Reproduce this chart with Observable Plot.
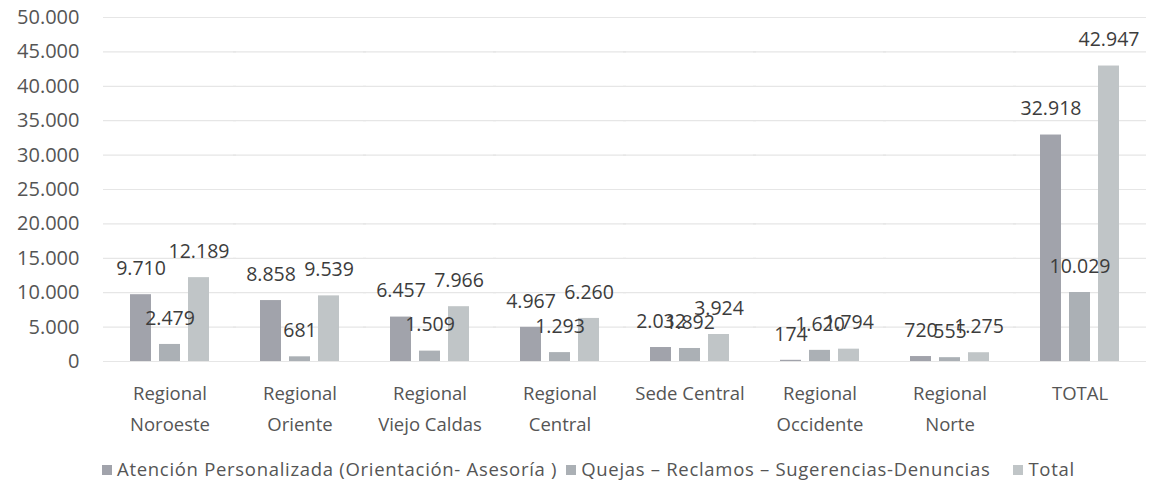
<!DOCTYPE html>
<html>
<head>
<meta charset="utf-8">
<script src="https://cdn.jsdelivr.net/npm/d3@7"></script>
<script src="https://cdn.jsdelivr.net/npm/@observablehq/plot@0.6"></script>
<style>
  html, body { margin: 0; padding: 0; background: #fff; }
  #chart { width: 1149px; }
  .legend { display: flex; justify-content: flex-start; align-items: center; gap: 9px;
    font-family: "Open Sans", sans-serif; font-size: 18.5px; letter-spacing: 0.7px; color: #555; height: 40px; margin-left: 102px; }
  .legend span.sw { display: inline-block; width: 10px; height: 10px; margin-right: 5px; vertical-align: middle; position: relative; top: -1px; }
  .legend .item { white-space: nowrap; }
</style>
</head>
<body>
<div id="chart"></div>
<script>
const categories = ["Regional Noroeste", "Regional Oriente", "Regional Viejo Caldas", "Regional Central", "Sede Central", "Regional Occidente", "Regional Norte", "TOTAL"];
const seriesNames = ["Atención Personalizada (Orientación- Asesoría )", "Quejas – Reclamos – Sugerencias-Denuncias", "Total"];
const atencion = [9710, 8858, 6457, 4967, 2032, 174, 720, 32918];
const quejas = [2479, 681, 1509, 1293, 1892, 1620, 555, 10029];
const totales = [12189, 9539, 7966, 6260, 3924, 1794, 1275, 42947];
const yTicks = [0, 5000, 10000, 15000, 20000, 25000, 30000, 35000, 40000, 45000, 50000];
const colors = ["#a1a3ab", "#abb0b5", "#c0c5c7"];

const seriesValues = [atencion, quejas, totales];
const data = [];
categories.forEach((c, i) => {
  seriesNames.forEach((s, j) => data.push({category: c, series: s, value: seriesValues[j][i]}));
});
const gridData = [];
categories.forEach(c => yTicks.forEach(t => gridData.push({category: c, tick: t})));

const loc = d3.formatLocale({decimal: ",", thousands: ".", grouping: [3], currency: ["", ""]});
const fmt = loc.format(",d");

const plot = Plot.plot({
  width: 1149,
  height: 448,
  marginLeft: 103,
  marginRight: 4,
  marginTop: 17,
  marginBottom: 87,
  style: {fontFamily: "'Open Sans', sans-serif", background: "#fff"},
  fx: {domain: categories, paddingInner: 0.378, paddingOuter: 0.189, label: null},
  x: {domain: seriesNames, paddingInner: 0.27, paddingOuter: 0, axis: null},
  y: {domain: [0, 50000], ticks: yTicks, tickFormat: fmt, label: null},
  color: {domain: seriesNames, range: colors},
  marks: [
    Plot.ruleY(gridData, {fx: "category", y: "tick", stroke: "#e6e6e6", strokeWidth: 1.2, insetLeft: -26, insetRight: -26}),
    Plot.axisY({ticks: yTicks, tickFormat: fmt, tickSize: 0, tickPadding: 50, fontSize: 20, fill: "#555", label: null}),
    Plot.barY(data, {fx: "category", x: "series", y: "value", fill: "series"}),
    Plot.text(data, {fx: "category", x: "series", y: "value", text: d => fmt(d.value), dy: -26, fontSize: 19.5, fill: "#3c3c3c"}),
    Plot.axisFx({anchor: "bottom", tickSize: 0, tickPadding: 17, fontSize: 18.5, lineHeight: 1.65, fill: "#555",
      tickFormat: d => d === "Sede Central" || d === "TOTAL" ? d : d.replace(" ", "\n"), label: null})
  ]
});
document.getElementById("chart").appendChild(plot);

const legend = document.createElement("div");
legend.className = "legend";
seriesNames.forEach((s, j) => {
  const it = document.createElement("span");
  it.className = "item";
  if (j === 2) it.style.marginLeft = "14px";
  const sw = document.createElement("span");
  sw.className = "sw";
  sw.style.background = colors[j];
  it.appendChild(sw);
  it.appendChild(document.createTextNode(s));
  legend.appendChild(it);
});
document.getElementById("chart").appendChild(legend);
</script>
</body>
</html>
